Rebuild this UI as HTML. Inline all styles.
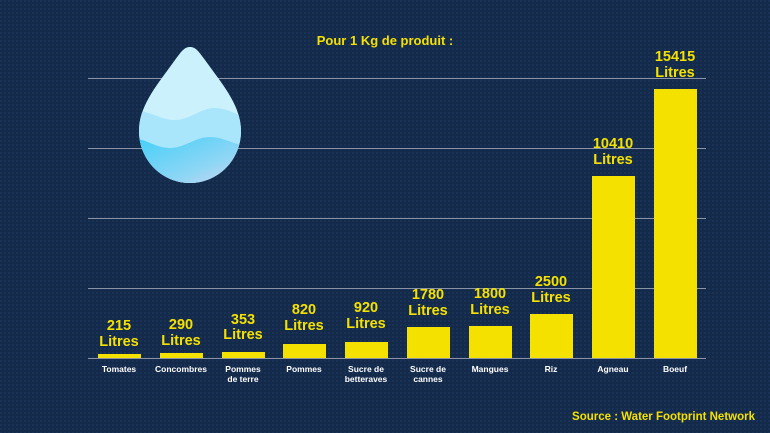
<!DOCTYPE html>
<html><head><meta charset="utf-8"><style>
html,body{margin:0;padding:0;width:770px;height:433px;overflow:hidden;background:#142a4b}
svg{display:block}
text{font-family:"Liberation Sans",sans-serif}
</style></head><body>
<svg width="770" height="433" viewBox="0 0 770 433" xmlns="http://www.w3.org/2000/svg">
<defs>
<pattern id="dots" width="4" height="4" patternUnits="userSpaceOnUse">
<rect width="4" height="4" fill="#142a4b"/><rect x="0" y="0" width="2" height="2" fill="#1a3255"/>
</pattern>
<linearGradient id="bot" x1="0" y1="0" x2="1" y2="1">
<stop offset="0" stop-color="#3fcff8"/><stop offset="0.6" stop-color="#8fd6f5"/><stop offset="1" stop-color="#e6d8f0"/>
</linearGradient>
<clipPath id="drop"><path d="M190 47 C184 47 181 52 175 60 C158 84 139 105 139 131 C139 160 162 183 190 183 C218 183 241 160 241 131 C241 105 222 84 205 60 C199 52 196 47 190 47 Z"/></clipPath>
</defs>
<rect width="770" height="433" fill="url(#dots)"/>
<g stroke="#8a93a8" stroke-width="1">
<line x1="88" y1="78.5" x2="706" y2="78.5"/>
<line x1="88" y1="148.5" x2="706" y2="148.5"/>
<line x1="88" y1="218.5" x2="706" y2="218.5"/>
<line x1="88" y1="288.5" x2="706" y2="288.5"/>
<line x1="88" y1="358.5" x2="706" y2="358.5"/>
</g>
<g clip-path="url(#drop)">
<rect x="130" y="40" width="120" height="150" fill="#cbf1fc"/>
<path d="M130 110 C150 110 160 120 175 120 C190 120 200 108 215 108 C230 108 240 118 250 118 L250 190 L130 190 Z" fill="#a9e6fb"/>
<path d="M130 138 C145 138 155 148 170 148 C185 148 195 137 210 137 C225 137 235 146 250 146 L250 190 L130 190 Z" fill="url(#bot)"/>
</g>
<text x="385" y="45" text-anchor="middle" font-size="13" font-weight="bold" fill="#f5e100">Pour 1 Kg de produit :</text>
<g fill="#f5e100">
<rect x="98" y="354" width="43" height="4"/>
<rect x="160" y="353" width="43" height="5"/>
<rect x="222" y="352" width="43" height="6"/>
<rect x="283" y="344" width="43" height="14"/>
<rect x="345" y="342" width="43" height="16"/>
<rect x="407" y="327" width="43" height="31"/>
<rect x="469" y="326" width="43" height="32"/>
<rect x="530" y="314" width="43" height="44"/>
<rect x="592" y="176" width="43" height="182"/>
<rect x="654" y="89" width="43" height="269"/>
</g>
<g fill="#f5e100" font-size="14.5" font-weight="bold" text-anchor="middle">
<text x="119" y="330">215</text><text x="119" y="346">Litres</text>
<text x="181" y="329">290</text><text x="181" y="345">Litres</text>
<text x="243" y="324">353</text><text x="243" y="339">Litres</text>
<text x="304" y="314">820</text><text x="304" y="330">Litres</text>
<text x="366" y="312">920</text><text x="366" y="328">Litres</text>
<text x="428" y="299">1780</text><text x="428" y="315">Litres</text>
<text x="490" y="298">1800</text><text x="490" y="314">Litres</text>
<text x="551" y="286">2500</text><text x="551" y="302">Litres</text>
<text x="613" y="148">10410</text><text x="613" y="164">Litres</text>
<text x="675" y="61">15415</text><text x="675" y="77">Litres</text>
</g>
<g fill="#ffffff" font-size="8.5" font-weight="bold" text-anchor="middle">
<text x="119" y="372">Tomates</text>
<text x="181" y="372">Concombres</text>
<text x="243" y="372">Pommes</text><text x="243" y="382">de terre</text>
<text x="304" y="372">Pommes</text>
<text x="366" y="372">Sucre de</text><text x="366" y="382">betteraves</text>
<text x="428" y="372">Sucre de</text><text x="428" y="382">cannes</text>
<text x="490" y="372">Mangues</text>
<text x="551" y="372">Riz</text>
<text x="613" y="372">Agneau</text>
<text x="675" y="372">Boeuf</text>
</g>
<text x="755" y="420" text-anchor="end" font-size="11.5" font-weight="bold" fill="#f5e100">Source : Water Footprint Network</text>
</svg>
</body></html>
